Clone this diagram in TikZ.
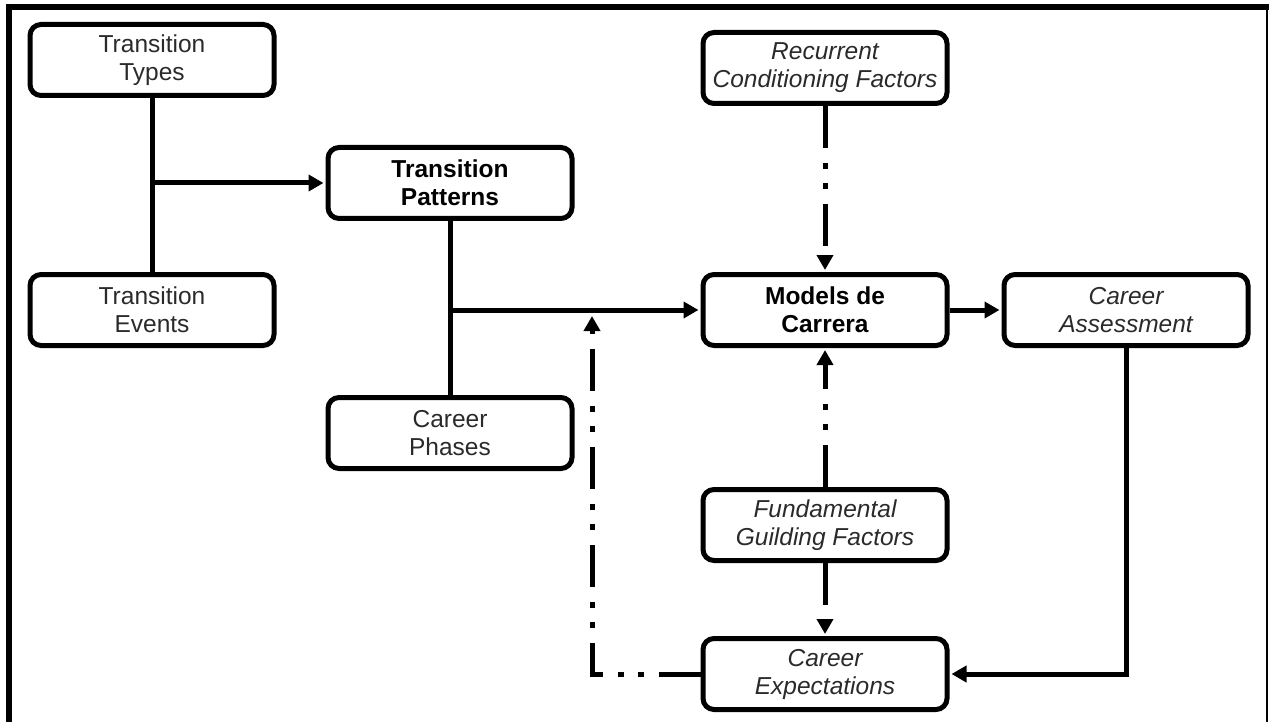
\documentclass[tikz,border=0pt]{standalone}
\usepackage{fontspec}
\setmainfont{Liberation Sans}
\usetikzlibrary{arrows.meta}
\definecolor{inkgray}{HTML}{2A2A2A}
\begin{document}
\begin{tikzpicture}[x=1pt,y=-1pt,
  box/.style={draw, line width=5pt, rounded corners=11pt,
    minimum width=244pt, minimum height=71pt, inner sep=0pt,
    align=center, text=inkgray, font=\fontsize{24.5}{28}\selectfont},
  strong/.style={box, text=black, font=\fontsize{24.5}{28}\selectfont\bfseries},
  soft/.style={box, font=\fontsize{24.5}{28}\selectfont\itshape},
  conn/.style={line width=5pt},
  tip/.style={-{Triangle[length=15pt,width=16pt]}, shorten >=2pt},
  dashdot/.style={conn, tip,
    dash pattern=on 42pt off 15pt on 6pt off 14pt on 6pt off 15pt}]

\useasboundingbox (0,0) rectangle (1269,722);

% frame: heavy top and left rules, hairline on the right
\draw[line width=6pt] (8.5,722) -- (8.5,7) -- (1269,7);
\draw[line width=1.5pt] (1267,7) -- (1267,722);

% boxes
\node[box]    (types)     at (152,60)   {Transition\\Types};
\node[box]    (events)    at (152,310)  {Transition\\Events};
\node[strong] (patterns)  at (450,183)  {Transition\\Patterns};
\node[box]    (phases)    at (450,433)  {Career\\Phases};
\node[soft]   (recurrent) at (825,68)   {Recurrent\\Conditioning Factors};
\node[strong] (models)    at (825,310)  {Models de\\Carrera};
\node[soft]   (assess)    at (1126,310) {Career\\Assessment};
\node[soft]   (fund)      at (825,525)  {Fundamental\\Guilding Factors};
\node[soft]   (expect)    at (825,674)  {Career\\Expectations};

\coordinate (back) at (592,316);

% solid connectors
\draw[conn] (types.south) -- (events.north);
\draw[conn,tip] (types.south |- patterns.west) -- (patterns.west);
\draw[conn] (patterns.south) -- (phases.north);
\draw[conn,tip] (patterns.south |- models.west) -- (models.west);
\draw[conn,tip] (models.east) -- (assess.west);
\draw[conn,tip] (assess.south) |- (expect.east);

% dash-dot influences
\draw[dashdot] (recurrent.south) -- (models.north);
\draw[dashdot] (fund.north) -- (models.south);
\draw[dashdot] (fund.south) -- (expect.north);
\draw[dashdot, shorten >=0pt] (expect.west) -| (back);
\end{tikzpicture}
\end{document}
